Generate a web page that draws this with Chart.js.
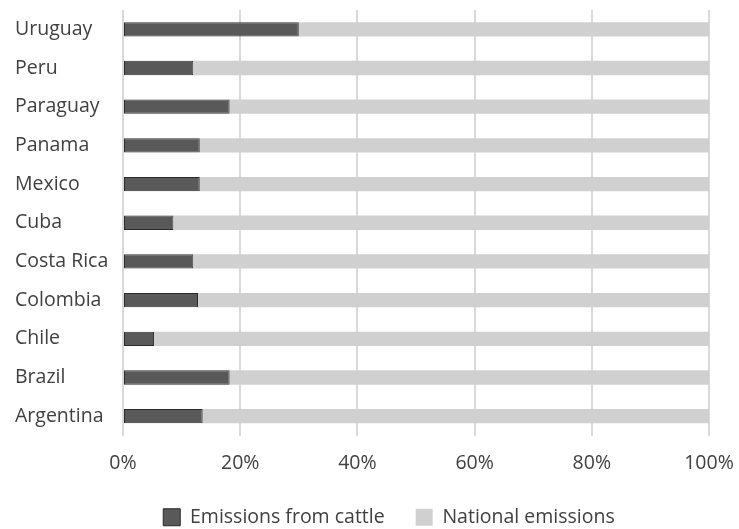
<!DOCTYPE html>
<html>
<head>
<meta charset="utf-8">
<script src="https://cdn.jsdelivr.net/npm/chart.js@4/dist/chart.umd.min.js"></script>
<style>
  html, body { margin: 0; padding: 0; background: #ffffff; }
  #wrap { width: 739px; height: 529px; }
</style>
</head>
<body>
<div id="wrap"><canvas id="chart" width="739" height="529"></canvas></div>
<script>
// Share of national greenhouse-gas emissions coming from cattle (%)
const countries = ["Uruguay", "Peru", "Paraguay", "Panama", "Mexico", "Cuba",
                   "Costa Rica", "Colombia", "Chile", "Brazil", "Argentina"];
const cattleShare   = [30, 12, 18.2, 13.1, 13.1, 8.6, 12, 12.8, 5.3, 18.2, 13.6];
const nationalShare = [70, 88, 81.8, 86.9, 86.9, 91.4, 88, 87.2, 94.7, 81.8, 86.4];
const xTickValues = [0, 20, 40, 60, 80, 100];

const textColor = "#404040";
const fontFamily = "'Open Sans', 'Noto Sans', sans-serif";
const fontSize = 19.5;

// Nudge the legend block to the right so it sits under the plot rather than the whole canvas
const legendShift = {
  id: "legendShift",
  afterLayout(chart) {
    const lg = chart.legend;
    if (lg) { lg.left += 27; lg.right += 27; }
  }
};

new Chart(document.getElementById("chart"), {
  type: "bar",
  data: {
    labels: countries,
    datasets: [
      {
        label: "Emissions from cattle",
        data: cattleShare,
        backgroundColor: "#595959",
        borderColor: "#2b2b2b",
        borderWidth: 1,
        borderSkipped: false
      },
      {
        label: "National emissions",
        data: nationalShare,
        backgroundColor: "#d0d0d0",
        borderWidth: 0
      }
    ]
  },
  plugins: [legendShift],
  options: {
    indexAxis: "y",
    responsive: false,
    animation: false,
    layout: { padding: { top: 10, left: 15, right: 30, bottom: -8 } },
    datasets: { bar: { categoryPercentage: 1, barPercentage: 0.37 } },
    scales: {
      x: {
        stacked: true,
        min: 0,
        max: 100,
        afterBuildTicks: (scale) => { scale.ticks = xTickValues.map(v => ({ value: v })); },
        afterFit: (scale) => { scale.paddingLeft = 0; scale.paddingRight = 0; scale.height = 41; },
        ticks: {
          callback: (v) => v + "%",
          color: textColor,
          font: { family: fontFamily, size: fontSize },
          padding: 16,
          maxRotation: 0
        },
        grid: { color: "#d9d9d9", lineWidth: 2, drawTicks: false },
        border: { display: false }
      },
      y: {
        stacked: true,
        afterFit: (scale) => { scale.width = 108; scale.paddingTop = 0; scale.paddingBottom = 0; },
        ticks: {
          crossAlign: "far",
          color: textColor,
          font: { family: fontFamily, size: fontSize }
        },
        grid: { display: false, drawTicks: false },
        border: { display: false }
      }
    },
    plugins: {
      legend: {
        position: "bottom",
        labels: {
          color: textColor,
          font: { family: fontFamily, size: fontSize },
          boxWidth: 17,
          boxHeight: 17,
          padding: 31
        }
      },
      tooltip: { enabled: false }
    }
  }
});
</script>
</body>
</html>
